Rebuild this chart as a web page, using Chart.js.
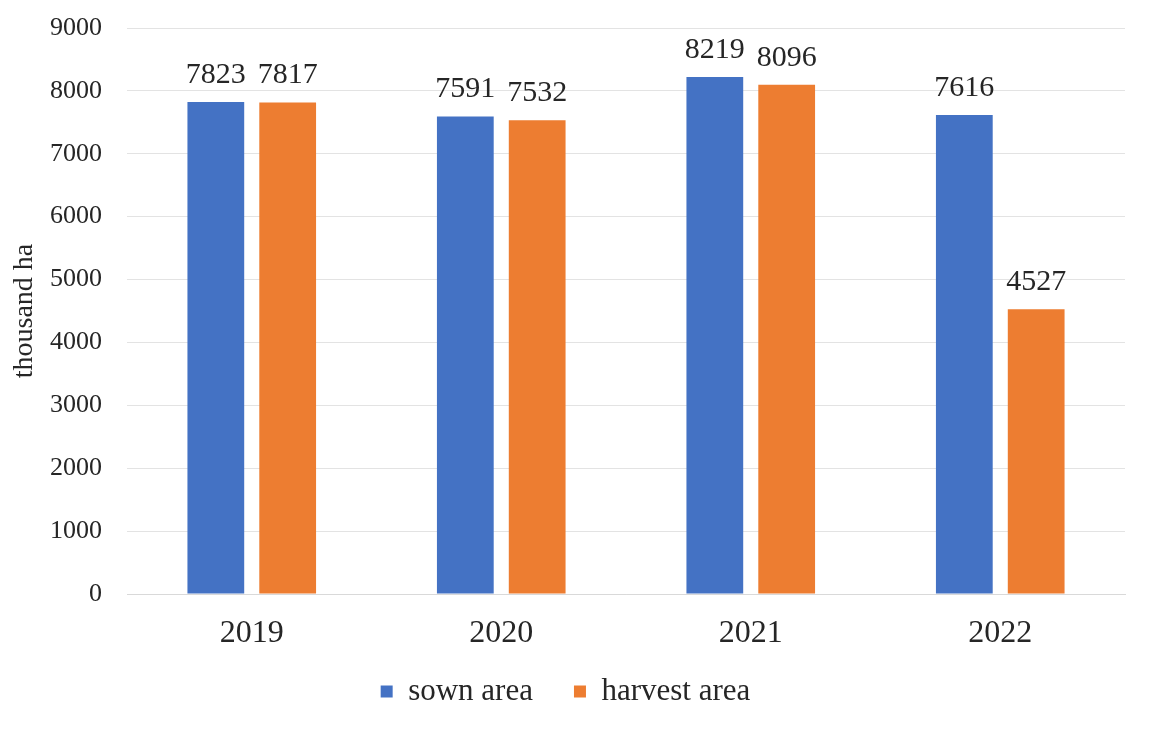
<!DOCTYPE html>
<html>
<head>
<meta charset="utf-8">
<script src="https://cdn.jsdelivr.net/npm/chart.js@4"></script>
<style>
html,body{margin:0;padding:0;background:#fff;}
#wrap{width:1149px;height:729px;}
</style>
</head>
<body>
<div id="wrap"><canvas id="c" width="1149" height="729"></canvas></div>
<script>
const categories = ["2019", "2020", "2021", "2022"];
const sownArea = [7823, 7591, 8219, 7616];
const harvestArea = [7817, 7532, 8096, 4527];
const yTicks = [0, 1000, 2000, 3000, 4000, 5000, 6000, 7000, 8000, 9000];

const FONT = "'Liberation Serif', 'Times New Roman', serif";

const labelPlugin = {
  id: 'valueLabels',
  afterDatasetsDraw(chart) {
    const ctx = chart.ctx;
    ctx.save();
    ctx.font = "30px " + FONT;
    ctx.fillStyle = "#262626";
    ctx.textAlign = "center";
    ctx.textBaseline = "middle";
    chart.data.datasets.forEach((ds, di) => {
      const meta = chart.getDatasetMeta(di);
      meta.data.forEach((bar, i) => {
        ctx.fillText(String(ds.data[i]), bar.x, bar.y - 27);
      });
    });
    ctx.restore();
  }
};

new Chart(document.getElementById('c'), {
  type: 'bar',
  data: {
    labels: categories,
    datasets: [
      { label: 'sown area', data: sownArea, backgroundColor: '#4472C4', categoryPercentage: 0.576, barPercentage: 0.79 },
      { label: 'harvest area', data: harvestArea, backgroundColor: '#ED7D31', categoryPercentage: 0.576, barPercentage: 0.79 }
    ]
  },
  options: {
    responsive: false,
    animation: false,
    devicePixelRatio: 1,
    layout: { padding: { top: 28, right: 24, bottom: 12, left: 6 } },
    plugins: {
      legend: {
        position: 'bottom',
        labels: {
          font: { family: FONT, size: 31 },
          color: '#262626',
          boxWidth: 12,
          boxHeight: 12,
          padding: 10,
          generateLabels(chart) {
            const items = Chart.defaults.plugins.legend.labels.generateLabels(chart);
            if (items.length) items[0].text = items[0].text + '\u2003';
            return items;
          }
        }
      },
      tooltip: { enabled: false }
    },
    scales: {
      x: {
        grid: { display: false, drawTicks: false },
        border: { display: true, color: '#d9d9d9', width: 1 },
        ticks: { font: { family: FONT, size: 32 }, color: '#262626', padding: 20 },
        afterFit(s) { s.height = 72; }
      },
      y: {
        min: 0, max: 9000,
        afterBuildTicks(s) { s.ticks = yTicks.map(v => ({ value: v })); },
        grid: { color: '#e3e3e3', drawTicks: false },
        border: { display: false },
        ticks: {
          font: { family: FONT, size: 26 }, color: '#262626', padding: 25,
          callback: (v) => String(v)
        },
        title: { display: true, text: 'thousand ha', font: { family: FONT, size: 28 }, color: '#262626', padding: 2 },
        afterFit(s) { s.width = 121; s.paddingTop = 0; s.paddingBottom = 0; }
      }
    }
  },
  plugins: [labelPlugin]
});
</script>
</body>
</html>
